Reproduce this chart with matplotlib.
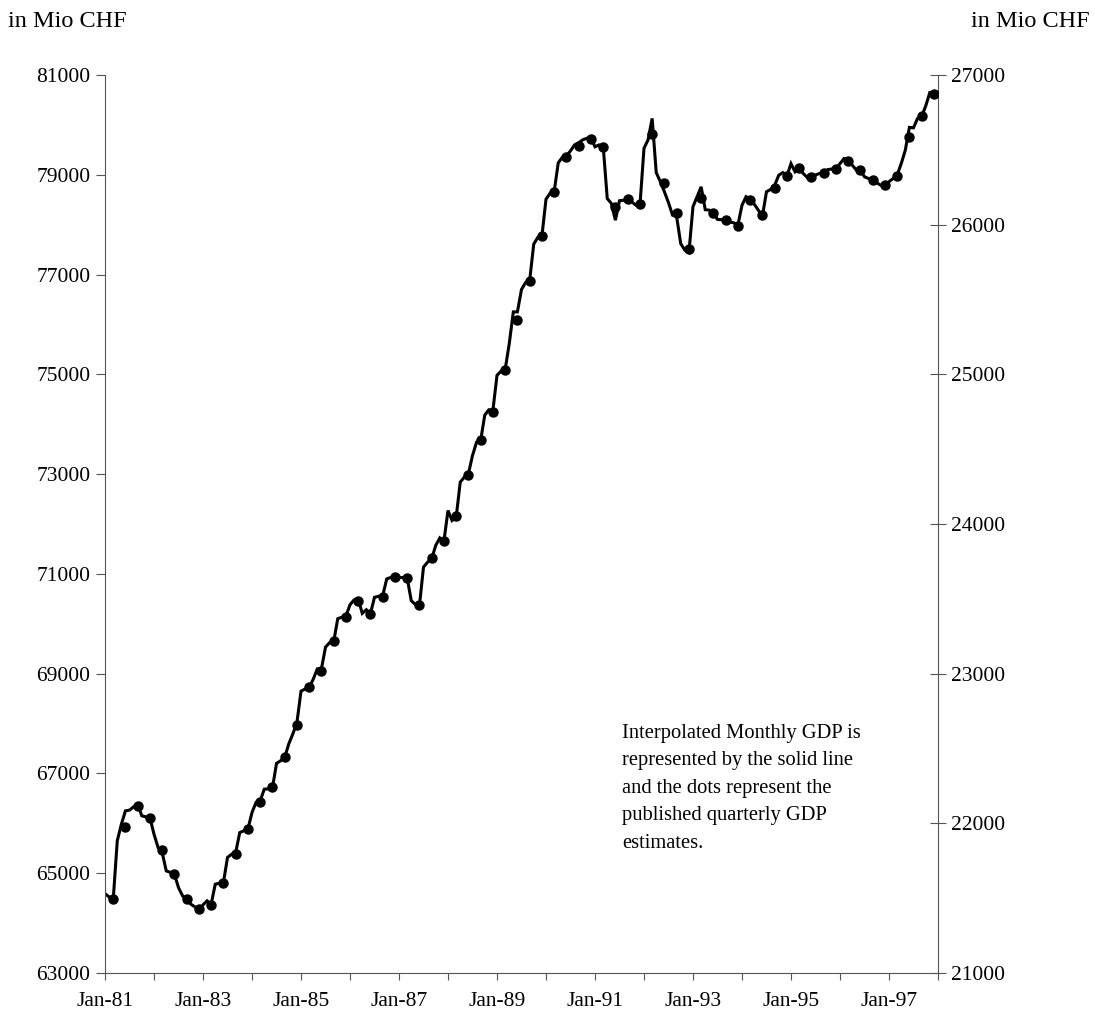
import numpy as np
import matplotlib
matplotlib.use("Agg")
import matplotlib.pyplot as plt

plt.rcParams['font.family'] = ['Liberation Serif', 'DejaVu Serif']

# Interpolated monthly GDP (Jan-81 .. Dec-97), in Mio CHF, right axis
monthly_gdp = [
    21530, 21508, 21487, 21883, 21993, 22083, 22088, 22110, 22128, 22050, 22043, 22038,
    21927, 21838, 21805, 21682, 21672, 21660, 21570, 21515, 21493, 21460, 21442, 21420,
    21455, 21482, 21460, 21593, 21600, 21603, 21772, 21793, 21805, 21938, 21950, 21962,
    22072, 22140, 22150, 22228, 22230, 22235, 22400, 22418, 22440, 22530, 22597, 22673,
    22883, 22897, 22908, 22963, 23032, 23032, 23177, 23207, 23213, 23367, 23377, 23385,
    23460, 23493, 23500, 23403, 23427, 23400, 23510, 23517, 23520, 23633, 23643, 23648,
    23643, 23642, 23640, 23488, 23462, 23453, 23712, 23745, 23767, 23857, 23907, 23885,
    24090, 24023, 24045, 24280, 24313, 24335, 24457, 24547, 24558, 24727, 24763, 24760,
    24993, 25022, 25032, 25205, 25417, 25417, 25567, 25613, 25627, 25870, 25915, 25923,
    26170, 26210, 26220, 26413, 26450, 26460, 26493, 26533, 26547, 26567, 26577, 26582,
    26520, 26533, 26527, 26175, 26142, 26030, 26160, 26163, 26170, 26153, 26130, 26125,
    26510, 26567, 26710, 26348, 26287, 26220, 26147, 26063, 26053, 25873, 25830, 25813,
    26120, 26187, 26253, 26100, 26097, 26075, 26035, 26033, 26033, 26018, 26012, 25997,
    26130, 26187, 26175, 26137, 26097, 26057, 26220, 26235, 26263, 26330, 26348, 26325,
    26408, 26353, 26377, 26342, 26315, 26315, 26332, 26342, 26343, 26368, 26372, 26370,
    26408, 26442, 26435, 26398, 26365, 26363, 26320, 26308, 26302, 26280, 26263, 26258,
    26287, 26308, 26332, 26408, 26498, 26650, 26647, 26710, 26723, 26793, 26883, 26880,
]

# Published quarterly GDP (Q1-81 .. Q4-97), in Mio CHF, left axis
quarterly_gdp = [
    64478, 65935, 66351, 66103, 65468, 64980, 64491, 64284,
    64364, 64812, 65394, 65883, 66420, 66718, 67330, 67969,
    68725, 69059, 69648, 70143, 70464, 70197, 70544, 70946,
    70919, 70377, 71313, 71655, 72156, 72972, 73675, 74244,
    75080, 76083, 76880, 77769, 78659, 79355, 79582, 79709,
    79562, 78358, 78512, 78412, 79823, 78843, 78241, 77521,
    78525, 78225, 78097, 77976, 78491, 78190, 78739, 78973,
    79127, 78946, 79026, 79107, 79281, 79093, 78893, 78792,
    78980, 79749, 80177, 80620,
]

# one tick per January, Jan-81 .. Jan-98
year_labels = ['Jan-81', '', 'Jan-83', '', 'Jan-85', '', 'Jan-87', '', 'Jan-89', '',
               'Jan-91', '', 'Jan-93', '', 'Jan-95', '', 'Jan-97', '']

months = np.arange(len(monthly_gdp))
quarter_months = np.arange(2, len(monthly_gdp), 3)  # last month of each quarter

fig = plt.figure(figsize=(10.95, 10.26), dpi=100)
ax = fig.add_axes([0.0959, 0.0517, 0.7607, 0.8752])
ax2 = ax.twinx()

axis_color = '#555555'

ax2.plot(months, monthly_gdp, color='black', lw=2.2, solid_joinstyle='miter')
ax.plot(quarter_months, quarterly_gdp, 'o', color='black', ms=6.5, mec='black')

ax.set_zorder(ax2.get_zorder() + 1)
ax.patch.set_visible(False)

ax.set_xlim(0, len(monthly_gdp))
ax.set_ylim(63000, 81000)
ax.set_yticks(np.arange(63000, 81001, 2000))
ax.set_yticklabels([str(v) for v in range(63000, 81001, 2000)])
ax.set_xticks(np.arange(0, len(monthly_gdp) + 1, 12))
ax.set_xticklabels(year_labels)

ax2.set_ylim(21000, 27000)
ax2.set_yticks(np.arange(21000, 27001, 1000))
ax2.set_yticklabels([str(v) for v in range(21000, 27001, 1000)])

for s in ['top', 'right']:
    ax.spines[s].set_visible(False)
for s in ['top', 'left', 'bottom']:
    ax2.spines[s].set_visible(False)
for s in ['left', 'bottom']:
    ax.spines[s].set_color(axis_color)
    ax.spines[s].set_linewidth(0.8)
ax2.spines['right'].set_color(axis_color)
ax2.spines['right'].set_linewidth(0.8)

ax.tick_params(axis='y', direction='out', length=6.5, width=0.8, color=axis_color,
               pad=4, labelsize=15.5)
ax.tick_params(axis='x', direction='out', length=5, width=0.8, color=axis_color,
               pad=9, labelsize=15.5)
ax2.tick_params(axis='y', direction='inout', length=11, width=0.8, color=axis_color,
                pad=4, labelsize=15.5)

fig.text(8 / 1095, 1 - 22 / 1026, 'in Mio CHF', ha='left', va='center', fontsize=17.5)
fig.text(1090 / 1095, 1 - 22 / 1026, 'in Mio CHF', ha='right', va='center', fontsize=17.5)

fig.text(622 / 1095, 1 - 724 / 1026,
         'Interpolated Monthly GDP is\nrepresented by the solid line\n'
         'and the dots represent the\npublished quarterly GDP\nestimates.',
         ha='left', va='top', fontsize=14.8, linespacing=1.6)

fig.savefig('out.png', dpi=100)
